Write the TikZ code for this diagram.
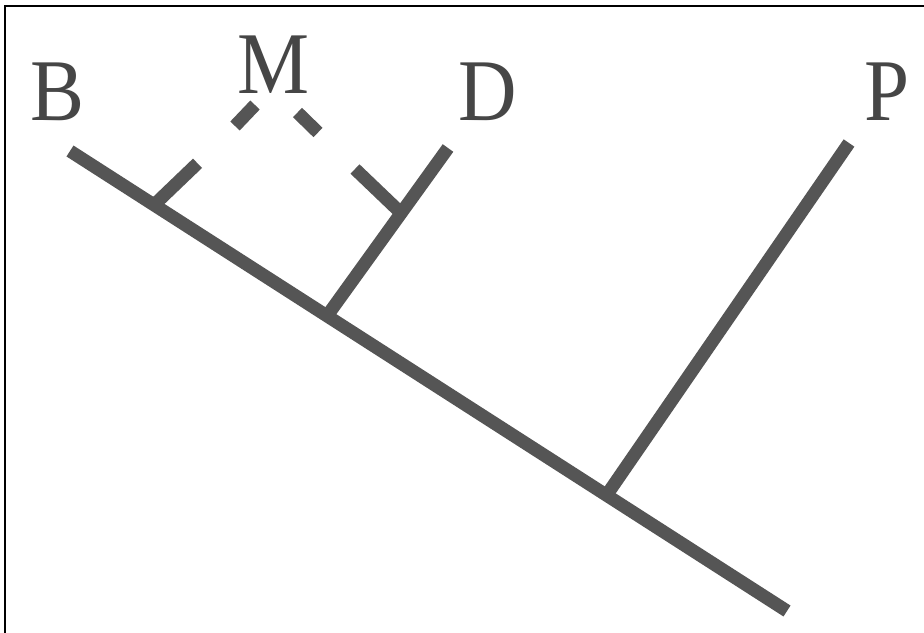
\documentclass[tikz,border=0pt]{standalone}
\usepackage{fontspec}
\setmainfont{Liberation Serif}
\definecolor{branchgray}{RGB}{85,85,85}
\definecolor{labelgray}{RGB}{70,70,70}
\begin{document}
\begin{tikzpicture}[x=0.5pt,y=-0.5pt,
  branch/.style={draw=branchgray,line width=6.5pt,line cap=butt},
  taxon/.style={anchor=base,inner sep=0pt,text=labelgray,xscale=0.92,
    font=\fontsize{44}{44}\selectfont},
  frameline/.style={draw=black,line width=1.2pt}]
\useasboundingbox (0,0) rectangle (924,632);
\fill[white] (0,0) rectangle (924,632);
% frame
\draw[frameline] (5,640) -- (5,6) -- (930,6);

% branch points and tips
\coordinate (root) at (70,151);
\coordinate (tail) at (787,611);
\coordinate (jB) at (154,205);
\coordinate (tB) at (197.5,163.3);
\coordinate (jD) at (327,316);
\coordinate (kD) at (401,213);
\coordinate (tD) at (448,148);
\coordinate (sD) at (355,169);
\coordinate (jP) at (606,496);
\coordinate (tP) at (849,143);
\coordinate (m1a) at (235,126);
\coordinate (m1b) at (255,105);
\coordinate (m2a) at (297.5,112.5);
\coordinate (m2b) at (318,132.5);

% tree
\draw[branch] (root) -- (tail);
\draw[branch] (jB) -- (tB);
\draw[branch] (jD) -- (tD);
\draw[branch] (kD) -- (sD);
\draw[branch] (jP) -- (tP);
\draw[branch] (m1a) -- (m1b);
\draw[branch] (m2a) -- (m2b);

% labels
\node[taxon] (B) at (57,120) {B};
\node[taxon] (M) at (273,93) {M};
\node[taxon] (D) at (488,120) {D};
\node[taxon] (P) at (887,120) {P};
\end{tikzpicture}
\end{document}
